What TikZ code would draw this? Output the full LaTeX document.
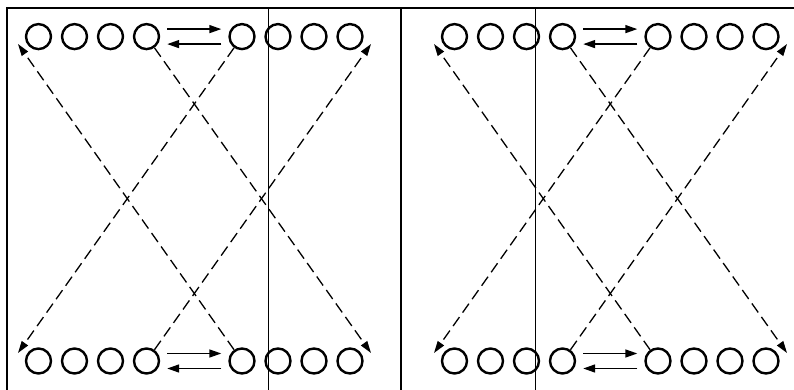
\documentclass[tikz,border=0pt]{standalone}
\usetikzlibrary{arrows.meta, positioning, calc}

\begin{document}
\begin{tikzpicture}[
    x=1pt, y=1pt,
    ring/.style={
        circle, draw, line width=2.4pt,
        minimum size=25pt, inner sep=0pt,
    },
    swap/.style={
        -{Triangle[length=12pt, width=8pt]},
        line width=1.5pt,
    },
    jump/.style={
        -{Triangle[length=12pt, width=7.5pt]},
        line width=1.3pt, dash pattern=on 11pt off 5.5pt,
    },
    border/.style={line width=2pt},
    splitline/.style={line width=0.8pt},
    node distance=8.6pt,
]
\useasboundingbox (0,0) rectangle (794,390);

% -- Frame --
\draw[border] (7,0) -- (7,382) -- (794,382);
\draw[border] (401,0) -- (401,382);
\draw[splitline] (268,0) -- (268,382);
\draw[splitline] (535,0) -- (535,382);

% ============ LEFT PANEL ============
% -- top row --
\node[ring] (lt1) at (38.5,353.4) {};
\node[ring, right=of lt1] (lt2) {};
\node[ring, right=of lt2] (lt3) {};
\node[ring, right=of lt3] (lt4) {};
\node[ring] (lt5) at (242,353.4) {};
\node[ring, right=of lt5] (lt6) {};
\node[ring, right=of lt6] (lt7) {};
\node[ring, right=of lt7] (lt8) {};

% -- bottom row --
\node[ring] (lb1) at (38.5,29) {};
\node[ring, right=of lb1] (lb2) {};
\node[ring, right=of lb2] (lb3) {};
\node[ring, right=of lb3] (lb4) {};
\node[ring] (lb5) at (242,29) {};
\node[ring, right=of lb5] (lb6) {};
\node[ring, right=of lb6] (lb7) {};
\node[ring, right=of lb7] (lb8) {};

% -- swaps --
\draw[swap] ($(lt4.east)+(7,7.5)$) -- ($(lt5.west)+(-7,7.5)$);
\draw[swap] ($(lt5.west)+(-7,-7.5)$) -- ($(lt4.east)+(7,-7.5)$);
\draw[swap] ($(lb4.east)+(7,7.5)$) -- ($(lb5.west)+(-7,7.5)$);
\draw[swap] ($(lb5.west)+(-7,-7.5)$) -- ($(lb4.east)+(7,-7.5)$);

% -- jumps --
\coordinate (ltl) at (18,346);
\coordinate (ltr) at (371,346);
\coordinate (lbl) at (18,37);
\coordinate (lbr) at (371,37);
\draw[jump] (lt4) -- (lbr);
\draw[jump] (lt5) -- (lbl);
\draw[jump] (lb4) -- (ltr);
\draw[jump] (lb5) -- (ltl);

% ============ RIGHT PANEL ============
% -- top row --
\node[ring] (rt1) at (454.5,353.4) {};
\node[ring, right=of rt1] (rt2) {};
\node[ring, right=of rt2] (rt3) {};
\node[ring, right=of rt3] (rt4) {};
\node[ring] (rt5) at (658,353.4) {};
\node[ring, right=of rt5] (rt6) {};
\node[ring, right=of rt6] (rt7) {};
\node[ring, right=of rt7] (rt8) {};

% -- bottom row --
\node[ring] (rb1) at (454.5,29) {};
\node[ring, right=of rb1] (rb2) {};
\node[ring, right=of rb2] (rb3) {};
\node[ring, right=of rb3] (rb4) {};
\node[ring] (rb5) at (658,29) {};
\node[ring, right=of rb5] (rb6) {};
\node[ring, right=of rb6] (rb7) {};
\node[ring, right=of rb7] (rb8) {};

% -- swaps --
\draw[swap] ($(rt4.east)+(7,7.5)$) -- ($(rt5.west)+(-7,7.5)$);
\draw[swap] ($(rt5.west)+(-7,-7.5)$) -- ($(rt4.east)+(7,-7.5)$);
\draw[swap] ($(rb4.east)+(7,7.5)$) -- ($(rb5.west)+(-7,7.5)$);
\draw[swap] ($(rb5.west)+(-7,-7.5)$) -- ($(rb4.east)+(7,-7.5)$);

% -- jumps --
\coordinate (rtl) at (434,346);
\coordinate (rtr) at (787,346);
\coordinate (rbl) at (434,37);
\coordinate (rbr) at (787,37);
\draw[jump] (rt4) -- (rbr);
\draw[jump] (rt5) -- (rbl);
\draw[jump] (rb4) -- (rtr);
\draw[jump] (rb5) -- (rtl);

\end{tikzpicture}
\end{document}
